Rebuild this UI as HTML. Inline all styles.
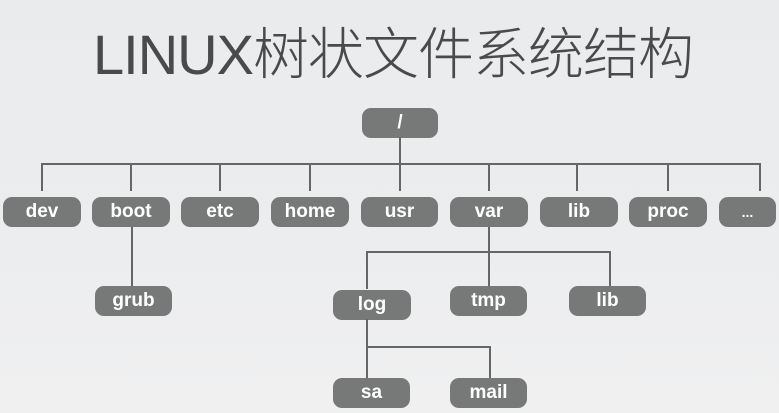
<!DOCTYPE html>
<html><head><meta charset="utf-8"><style>
html,body{margin:0;padding:0}
body{width:779px;height:413px;overflow:hidden;position:relative;background:linear-gradient(180deg,#e9ebed 0%,#ecedef 60%,#f0f0f1 100%);font-family:"Liberation Sans","Noto Sans CJK SC",sans-serif}
.t{position:absolute;left:93px;top:10px;font-size:56px;color:#4a4a4a;font-weight:300;letter-spacing:-1px;white-space:nowrap;font-family:"Liberation Sans","Noto Sans CJK SC",sans-serif}
.b{position:absolute;background:#777979;color:#fff;font-weight:bold;font-size:19px;border-radius:9px;text-align:center;height:30px;line-height:30px}
.l{position:absolute;background:#666}
</style></head><body>
<div class="t">LINUX树状文件系统结构</div>
<div class="b" style="left:362px;top:108px;width:76px">/</div>
<div class="l" style="left:399px;top:137px;width:2px;height:54px"></div>
<div class="l" style="left:41px;top:163px;width:720px;height:2px"></div>
<div class="l" style="left:41px;top:163px;width:2px;height:28px"></div>
<div class="l" style="left:130px;top:163px;width:2px;height:28px"></div>
<div class="l" style="left:219px;top:163px;width:2px;height:28px"></div>
<div class="l" style="left:309px;top:163px;width:2px;height:28px"></div>
<div class="l" style="left:488px;top:163px;width:2px;height:28px"></div>
<div class="l" style="left:576px;top:163px;width:2px;height:28px"></div>
<div class="l" style="left:667px;top:163px;width:2px;height:28px"></div>
<div class="l" style="left:759px;top:163px;width:2px;height:28px"></div>
<div class="b" style="left:3px;top:197px;width:78px">dev</div>
<div class="b" style="left:92px;top:197px;width:78px">boot</div>
<div class="b" style="left:181px;top:197px;width:78px">etc</div>
<div class="b" style="left:271px;top:197px;width:78px">home</div>
<div class="b" style="left:361px;top:197px;width:77px">usr</div>
<div class="b" style="left:450px;top:197px;width:78px">var</div>
<div class="b" style="left:540px;top:197px;width:78px">lib</div>
<div class="b" style="left:629px;top:197px;width:78px">proc</div>
<div class="b" style="left:719px;top:197px;width:57px;font-size:14px">...</div>
<div class="l" style="left:131px;top:227px;width:2px;height:60px"></div>
<div class="b" style="left:95px;top:286px;width:77px">grub</div>
<div class="l" style="left:488px;top:227px;width:2px;height:60px"></div>
<div class="l" style="left:366px;top:251px;width:245px;height:2px"></div>
<div class="l" style="left:366px;top:251px;width:2px;height:38px"></div>
<div class="l" style="left:609px;top:251px;width:2px;height:36px"></div>
<div class="b" style="left:333px;top:290px;width:78px">log</div>
<div class="b" style="left:450px;top:286px;width:77px">tmp</div>
<div class="b" style="left:569px;top:286px;width:77px">lib</div>
<div class="l" style="left:366px;top:319px;width:2px;height:60px"></div>
<div class="l" style="left:366px;top:346px;width:125px;height:2px"></div>
<div class="l" style="left:489px;top:346px;width:2px;height:33px"></div>
<div class="b" style="left:333px;top:378px;width:77px">sa</div>
<div class="b" style="left:450px;top:378px;width:77px">mail</div>
</body></html>
